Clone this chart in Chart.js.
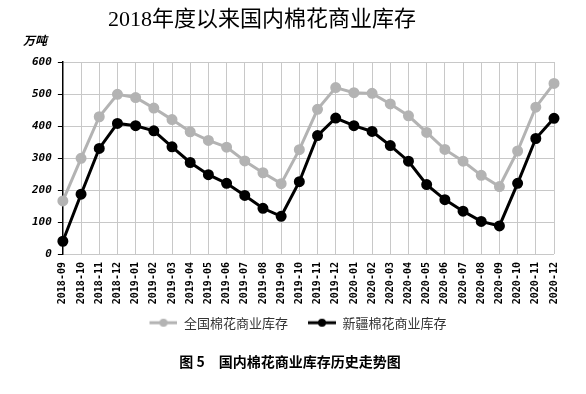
<!DOCTYPE html>
<html>
<head>
<meta charset="utf-8">
<script src="https://cdn.jsdelivr.net/npm/chart.js@4"></script>
<style>
html,body{margin:0;padding:0;background:#fff;}
#wrap{width:586px;height:394px;position:relative;}
</style>
</head>
<body>
<div id="wrap"><canvas id="c" width="586" height="394"></canvas></div>
<script>
const categories = ["2018-09","2018-10","2018-11","2018-12","2019-01","2019-02","2019-03","2019-04","2019-05","2019-06","2019-07","2019-08","2019-09","2019-10","2019-11","2019-12","2020-01","2020-02","2020-03","2020-04","2020-05","2020-06","2020-07","2020-08","2020-09","2020-10","2020-11","2020-12"];
const nationalStock = [166,299,429,499,489,456,420,382,355,334,291,254,220,326,452,520,504,502,469,432,380,327,290,246,211,322,459,533];
const xinjiangStock = [40,187,330,408,401,385,335,286,248,221,183,143,118,226,370,425,401,383,339,290,217,170,134,102,88,221,361,424];
const seriesNames = ["全国棉花商业库存","新疆棉花商业库存"];
const chartTitle = "2018年度以来国内棉花商业库存";
const unitLabel = "万吨";
const captionText = "图 5　国内棉花商业库存历史走势图";

const GRAY = "#b3b3b3";
const BLACK = "#000000";

function legendIcon(color){
  const cv = document.createElement('canvas');
  cv.width = 44; cv.height = 10;
  const g = cv.getContext('2d');
  g.strokeStyle = color; g.lineWidth = 3;
  g.beginPath(); g.moveTo(16,5); g.lineTo(44,5); g.stroke();
  g.fillStyle = color;
  g.beginPath(); g.arc(30,5,4,0,Math.PI*2); g.fill();
  return cv;
}
const icons = [legendIcon(GRAY), legendIcon(BLACK)];

const textPlugin = {
  id: 'extraText',
  afterDraw(chart){
    const ctx = chart.ctx;
    ctx.save();
    ctx.fillStyle = '#000';
    ctx.textBaseline = 'middle';
    ctx.textAlign = 'center';
    ctx.font = '22px "Liberation Serif", "Noto Sans CJK SC"';
    ctx.fillText(chartTitle, 262, 20);
    ctx.textAlign = 'left';
    ctx.font = 'italic bold 12px "Noto Sans CJK SC"';
    ctx.fillText(unitLabel, 23, 40);
    ctx.restore();
  }
};

new Chart(document.getElementById('c'), {
  type: 'line',
  data: {
    labels: categories,
    datasets: [
      {label: seriesNames[0], data: nationalStock, borderColor: GRAY, backgroundColor: GRAY,
       borderWidth: 3, pointRadius: 4, pointBackgroundColor: GRAY, pointBorderColor: GRAY, tension: 0},
      {label: seriesNames[1], data: xinjiangStock, borderColor: BLACK, backgroundColor: BLACK,
       borderWidth: 3, pointRadius: 4, pointBackgroundColor: BLACK, pointBorderColor: BLACK, tension: 0}
    ]
  },
  options: {
    responsive: false,
    animation: false,
    layout: {padding: {left: 26, right: 32, top: 62, bottom: 0}},
    scales: {
      x: {
        offset: false,
        grid: {color: '#c8c8c8', borderDash: [4,3], drawTicks: false, lineWidth: 1},
        border: {display: false},
        ticks: {
          autoSkip: false, maxRotation: 90, minRotation: 90, padding: 8,
          color: '#000',
          font: {family: '"DejaVu Sans Mono"', size: 10, weight: 'bold'}
        }
      },
      y: {
        min: 0, max: 600,
        grid: {color: '#c8c8c8', borderDash: [4,3], tickColor: '#000', tickLength: 5, tickBorderDash: [], lineWidth: 1},
        border: {display: true, color: '#000', width: 1.5},
        ticks: {
          stepSize: 100, padding: 6, color: '#000',
          font: {family: '"DejaVu Sans Mono"', size: 11, weight: 'bold', style: 'italic'}
        }
      }
    },
    plugins: {
      title: {display: false},
      subtitle: {
        display: true, position: 'bottom', text: captionText, color: '#000',
        font: {family: '"Noto Sans CJK SC"', size: 14, weight: 'bold'},
        padding: {top: 14, bottom: 24}
      },
      legend: {
        position: 'bottom',
        labels: {
          usePointStyle: true, pointStyleWidth: 44, padding: 4,
          color: '#333',
          font: {family: '"Noto Sans CJK SC"', size: 13},
          generateLabels(chart){
            return chart.data.datasets.map((ds, i) => ({
              text: ds.label, pointStyle: icons[i], fillStyle: ds.borderColor,
              strokeStyle: ds.borderColor, lineWidth: 0, hidden: false, datasetIndex: i, fontColor: '#333'
            }));
          }
        }
      },
      tooltip: {enabled: false}
    }
  },
  plugins: [textPlugin]
});
</script>
</body>
</html>
